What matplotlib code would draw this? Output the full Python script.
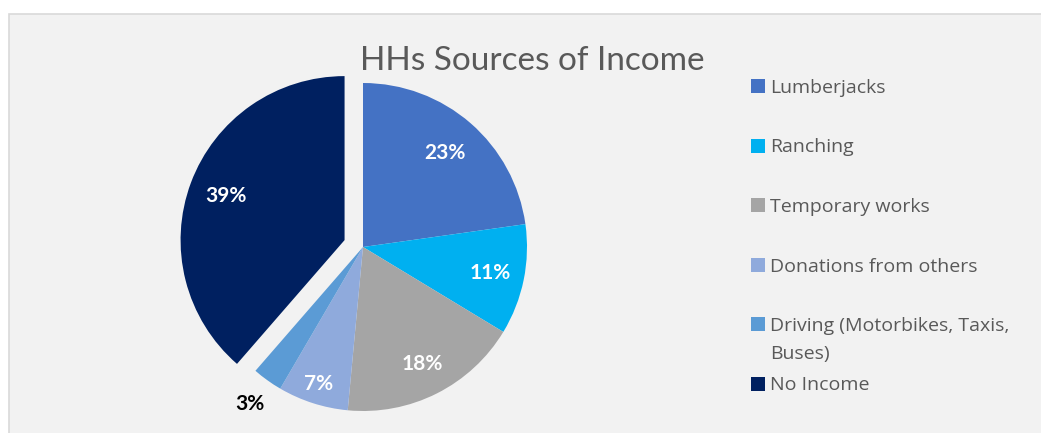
import numpy as np
import matplotlib.pyplot as plt
from matplotlib.patches import Rectangle

# household income sources (percent of households)
categories = ['Lumberjacks', 'Ranching', 'Temporary works', 'Donations from others',
              'Driving (Motorbikes, Taxis,\nBuses)', 'No Income']
shares = [23, 11, 18, 7, 3, 39]
colors = ['#4472C4', '#00B0F0', '#A5A5A5', '#8FAADC', '#5B9BD5', '#002060']

# per-slice label placement
explode = [0, 0, 0, 0, 0, 0.12]
label_dist = [0.76, 0.79, 0.80, 0.88, 1.18, 0.77]
label_col = ['white', 'white', 'white', 'white', 'black', 'white']

W, H = 1041, 433
fig = plt.figure(figsize=(W / 100, H / 100), dpi=100)
fig.patch.set_facecolor('white')

# chart frame
fig.patches.append(Rectangle((8.5 / W, -0.1), 1.1, (H - 13.5) / H + 0.1,
                             transform=fig.transFigure, facecolor='#F2F2F2',
                             edgecolor='#D9D9D9', linewidth=1.2, zorder=-5))

# axes spanning the figure, 1 data unit = pie radius in px
R = 164
cx, cy = 363, 247
ax = fig.add_axes([0, 0, 1, 1], zorder=2)
ax.set_facecolor('none')

wedges, _ = ax.pie(shares, colors=colors, startangle=90, counterclock=False,
                   explode=explode, radius=1,
                   wedgeprops=dict(linewidth=0))
ax.set_xlim(-cx / R, (W - cx) / R)
ax.set_ylim(-(H - cy) / R, cy / R)
ax.set_aspect('auto')
ax.axis('off')

for w, v, d, c in zip(wedges, shares, label_dist, label_col):
    ang = np.deg2rad((w.theta1 + w.theta2) / 2)
    x0, y0 = w.center
    ax.text(x0 + d * np.cos(ang), y0 + d * np.sin(ang), f'{v}%',
            ha='center', va='center', color=c, fontsize=15,
            fontweight='bold', family='Lato')

fig.text(532 / W, 1 - 70 / H, 'HHs Sources of Income', ha='center',
         va='baseline', fontsize=24, color='#595959', family='Lato')

# legend, one entry every ~59.5 px
for i, (lab, col) in enumerate(zip(categories, colors)):
    y = 86 + i * 59.5
    fig.patches.append(Rectangle((751 / W, 1 - (y + 7) / H), 14 / W, 14 / H,
                                 transform=fig.transFigure, facecolor=col,
                                 edgecolor='none'))
    fig.text(770 / W, 1 - (y - 7) / H, lab, ha='left', va='top',
             fontsize=14, color='#595959', family='Open Sans', linespacing=1.68)

fig.savefig('out.png', dpi=100)
